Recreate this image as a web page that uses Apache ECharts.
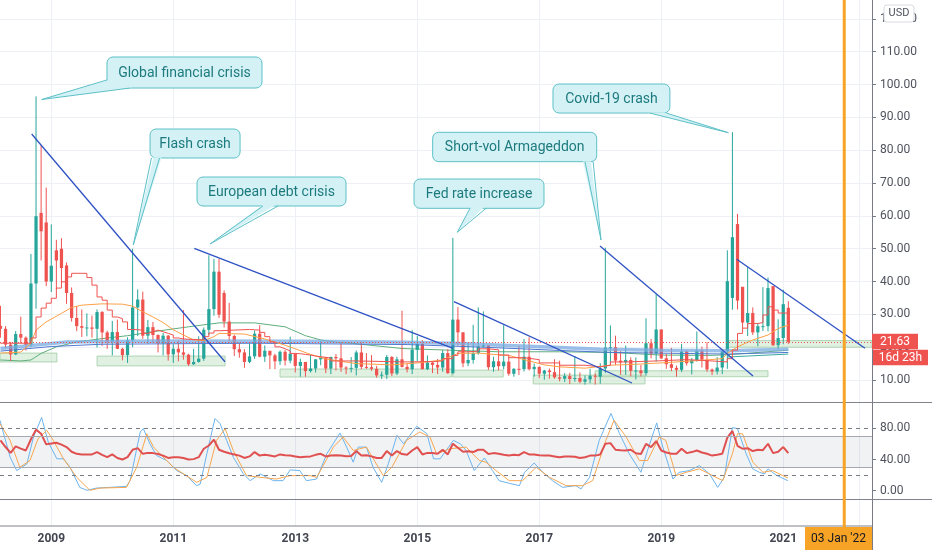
<!DOCTYPE html>
<html><head><meta charset="utf-8">
<script src="https://cdn.jsdelivr.net/npm/echarts@6/dist/echarts.min.js"></script>
<style>html,body{margin:0;padding:0;background:#fff}#c{width:932px;height:550px}</style>
</head><body><div id="c"></div><script>
// ---------------- DATA ----------------
const months = ['2008-03','2008-04','2008-05','2008-06','2008-07','2008-08','2008-09','2008-10','2008-11','2008-12',
'2009-01','2009-02','2009-03','2009-04','2009-05','2009-06','2009-07','2009-08','2009-09','2009-10','2009-11','2009-12',
'2010-01','2010-02','2010-03','2010-04','2010-05','2010-06','2010-07','2010-08','2010-09','2010-10','2010-11','2010-12',
'2011-01','2011-02','2011-03','2011-04','2011-05','2011-06','2011-07','2011-08','2011-09','2011-10','2011-11','2011-12',
'2012-01','2012-02','2012-03','2012-04','2012-05','2012-06','2012-07','2012-08','2012-09','2012-10','2012-11','2012-12',
'2013-01','2013-02','2013-03','2013-04','2013-05','2013-06','2013-07','2013-08','2013-09','2013-10','2013-11','2013-12',
'2014-01','2014-02','2014-03','2014-04','2014-05','2014-06','2014-07','2014-08','2014-09','2014-10','2014-11','2014-12',
'2015-01','2015-02','2015-03','2015-04','2015-05','2015-06','2015-07','2015-08','2015-09','2015-10','2015-11','2015-12',
'2016-01','2016-02','2016-03','2016-04','2016-05','2016-06','2016-07','2016-08','2016-09','2016-10','2016-11','2016-12',
'2017-01','2017-02','2017-03','2017-04','2017-05','2017-06','2017-07','2017-08','2017-09','2017-10','2017-11','2017-12',
'2018-01','2018-02','2018-03','2018-04','2018-05','2018-06','2018-07','2018-08','2018-09','2018-10','2018-11','2018-12',
'2019-01','2019-02','2019-03','2019-04','2019-05','2019-06','2019-07','2019-08','2019-09','2019-10','2019-11','2019-12',
'2020-01','2020-02','2020-03','2020-04','2020-05','2020-06','2020-07','2020-08','2020-09','2020-10','2020-11','2020-12',
'2021-01','2021-02'];
const open = [26.5,25.6,20.8,17.8,24.0,22.9,20.7,39.4,60.9,58.0,
40.0,49.5,50.0,44.9,36.5,28.9,26.4,25.9,26.0,25.6,30.7,24.5,
21.7,24.6,19.5,17.6,22.1,32.1,34.5,23.5,26.1,23.7,21.2,23.5,
17.8,19.5,18.4,17.7,14.8,15.5,16.5,25.3,31.6,43.0,36.5,27.8,
23.4,19.4,18.4,15.5,17.2,24.1,17.1,18.9,17.5,15.7,18.6,15.9,
18.0,14.3,15.5,12.7,13.5,16.3,16.9,13.5,17.0,16.6,13.8,13.7,
13.7,18.4,14.0,13.9,13.4,11.4,11.6,17.0,12.0,16.3,14.0,13.3,
19.2,21.0,13.3,15.3,14.6,13.8,18.2,12.1,28.4,24.5,15.1,16.1,
18.2,20.2,20.6,13.9,15.7,14.2,15.6,11.9,13.4,13.3,17.1,13.3,
14.0,11.9,12.9,12.4,10.8,10.4,11.2,10.3,10.6,9.5,10.2,11.3,
11.0,13.5,19.9,20.0,15.9,15.4,16.1,12.8,12.9,12.1,21.2,18.1,
25.4,16.6,14.8,13.7,13.1,18.7,15.1,16.1,19.0,16.2,13.2,12.6,
13.8,18.8,35.0,57.5,38.4,27.5,30.4,24.5,26.4,26.4,38.6,20.6,
22.8,32.0];
const high = [32.6,26.4,21.6,24.9,29.3,23.3,48.4,96.4,81.5,68.6,
57.4,52.7,53.2,45.8,38.2,32.5,31.5,30.3,29.6,31.5,31.0,25.0,
28.0,28.4,19.8,23.0,50.0,37.6,36.9,28.3,27.7,23.9,24.3,23.7,
20.9,22.1,31.3,18.0,19.5,23.3,26.0,48.0,46.9,46.9,37.3,33.5,
23.8,21.3,19.4,21.1,25.1,26.7,20.5,18.9,18.0,19.0,19.1,23.2,
18.0,16.5,15.5,17.6,16.3,21.9,16.9,17.1,17.9,21.3,14.2,17.0,
19.0,21.5,18.2,17.6,14.3,12.6,17.6,17.3,17.1,31.1,15.0,25.2,
23.4,22.2,17.5,15.6,16.4,19.1,19.4,53.3,32.2,24.6,21.4,26.8,
32.1,30.9,20.6,17.1,17.6,26.7,17.1,13.6,20.5,22.5,23.0,15.0,
14.2,13.1,13.5,16.3,15.9,12.1,12.2,17.3,12.3,11.4,13.4,12.0,
15.1,50.3,26.6,23.5,18.8,20.5,16.9,16.9,14.6,28.8,22.5,36.2,
25.4,17.9,19.8,14.4,21.0,19.0,16.7,24.8,20.2,21.5,13.5,17.0,
19.0,49.5,85.5,60.6,38.3,44.4,32.1,27.4,38.3,41.2,38.4,28.5,
37.5,34.0];
const low = [22.9,19.6,15.8,17.6,21.3,19.0,20.0,31.7,46.4,38.6,
36.8,37.6,39.6,33.2,27.8,24.9,23.1,23.3,22.9,19.9,20.4,19.5,
17.5,19.4,16.0,15.2,20.0,23.4,22.5,21.1,21.3,18.4,17.5,15.9,
15.2,15.7,16.2,14.3,14.6,15.3,15.8,23.7,29.6,28.9,26.0,21.7,
17.3,16.8,13.7,15.1,16.4,16.9,15.5,13.3,13.3,14.6,14.4,15.1,
12.3,11.0,11.0,12.3,12.3,14.5,12.1,11.8,12.9,12.5,11.8,12.3,
11.4,13.3,13.4,12.8,10.7,10.3,10.3,11.2,11.5,13.8,12.3,11.8,
15.8,13.2,13.0,12.1,11.8,12.5,11.9,11.8,20.5,13.9,14.2,15.0,
17.7,19.8,13.1,12.5,12.9,13.2,11.3,11.0,11.5,12.6,12.9,11.0,
10.6,10.1,10.4,10.4,9.6,9.4,8.8,9.5,9.0,8.6,9.0,8.6,
8.9,12.1,14.6,14.6,11.6,11.6,11.1,10.2,11.1,11.3,16.6,15.6,
16.4,13.4,12.7,11.0,12.4,14.4,11.7,15.6,13.8,12.5,11.5,11.7,
11.8,13.4,31.4,31.5,25.6,23.4,23.7,20.3,24.9,24.8,20.4,19.3,
20.9,21.0];
const close = [25.6,20.8,17.8,24.0,22.9,20.7,39.4,59.9,55.3,40.0,
44.8,46.4,44.1,36.5,28.9,26.4,25.9,26.0,25.6,30.7,24.5,21.7,
24.6,19.5,17.6,22.1,32.1,34.5,23.5,26.1,23.7,21.2,23.5,17.8,
19.5,18.4,17.7,14.8,15.5,16.5,25.3,31.6,43.0,29.9,27.8,23.4,
19.4,18.4,15.5,17.2,24.1,17.1,18.9,17.5,15.7,18.6,15.9,18.0,
14.3,15.5,12.7,13.5,16.3,16.9,13.5,17.0,16.6,13.8,13.7,13.7,
18.4,14.0,13.9,13.4,11.4,11.6,17.0,12.0,16.3,14.0,13.3,19.2,
21.0,13.3,15.3,14.6,13.8,18.2,12.1,28.4,24.5,15.1,16.1,18.2,
20.2,20.6,13.9,15.7,14.2,15.6,11.9,13.4,13.3,17.1,13.3,14.0,
11.9,12.9,12.4,10.8,10.4,11.2,10.3,10.6,9.5,10.2,11.3,11.0,
13.5,19.9,20.0,15.9,15.4,16.1,12.8,12.9,12.1,21.2,18.1,25.4,
16.6,14.8,13.7,13.1,18.7,15.1,16.1,19.0,16.2,13.2,12.6,13.8,
18.8,40.1,53.5,34.2,27.5,30.4,24.5,26.4,26.4,38.0,20.6,22.8,
33.1,21.6];
const lastPrice = 21.63;
const countdown = '16d 23h';
const currency = 'USD';
const markerDate = "03 Jan '22";

// indicator lines: [months since Jan 2009, value]
const maStep = [[-10,21.2],[-5,21.2],[-4,22.8],[-3,29.2],[-2,31.9],[-1,33.4],[0,34.9],[1,38],[2,39.9],[3,41.4],[4,42.5],[6,42.5],[7,41.2],[8,38.9],[9,35.3],[10,34.3],[11,31.3],[12,29.2],[13,28.7],[14,27.7],[15,25.4],[16,25.2],[18,24.2],[19,24.7],[20,25.2],[21,24.7],[22,24.2],[23,23.7],[24,22.8],[25,22.5],[26,22.2],[30,23.2],[31,24.3],[32,25],[33,25.4],[39,25.3],[40,25.2],[41,24.5],[42,23.2],[43,21.6],[44,20.1],[45,19.5],[46,18.9],[47,18.1],[48,18],[49,17.8],[50,17.6],[51,17.3],[52,16.7],[55,15.8],[60,15.5],[70,15.6],[75,15.8],[77,16.5],[79,17.5],[80,18.6],[82,18.8],[84,19.5],[86,19.2],[88,17.6],[90,16.8],[93,16.2],[96,15.2],[100,14.5],[105,14],[108,14.5],[110,15.5],[113,15.8],[119,16],[122,16.2],[125,16],[128,15.5],[133,16.5],[134,19.1],[135,24.2],[136,25.8],[137,27.2],[139,27.5],[140,29.8],[141,32.3],[142,31.3],[143,30.4],[145,29.5]];
const maOrange = [[-10,18.2],[-6,18.5],[-4,21.2],[-3,25.2],[-1,27.7],[2,30.3],[4,32.1],[6,32.8],[10,33.2],[14,33.1],[16,32.5],[18,30.8],[20,29.2],[22,27.5],[24,25.3],[26,23.7],[28,22.2],[30,22],[32,23.2],[33,24.2],[38,24],[42,22.5],[46,20.6],[48,19.5],[51,17.8],[54,16.4],[60,15],[67,14.6],[72,15.2],[77,16.1],[80,18.1],[84,18.2],[87,17.8],[90,17.5],[94,15.8],[97,14.6],[100,14],[105,13.6],[110,14.5],[115,14.8],[120,15.2],[128,16],[132,16.5],[133,18.1],[135,20.1],[138,22.2],[141,23.7],[143,25.7],[145,26.7]];
const maGreen = [[-10,16.1],[-6,15.8],[-4,16.1],[-2,18.1],[1,20.1],[5,21.6],[10,22.6],[15,23.5],[20,24.7],[27,26.2],[33,27.4],[40,27.4],[46,26.2],[50,23.5],[53,22.2],[56,21.5],[59,21.2],[69,19.6],[78,19.1],[88,18.6],[100,18.6],[110,18.4],[120,17.6],[130,17.5],[134,17.8],[140,18.5],[145,19.1]];
const maBlueWide = [[-10,19.6],[-4,20.5],[3,21.6],[20,21.9],[50,21.8],[70,21.5],[80,21.1],[90,20.5],[100,19.9],[108,19.4],[120,19.1],[133,18.9],[145,19.4]];
const maBlue = [[-10,18.8],[0,20.2],[10,20.9],[40,21.2],[70,20.8],[85,20.0],[100,19.0],[110,18.4],[133,17.9],[145,18.4]];
const maTeal = [[133,17.0],[137,17.3],[141,17.6],[145,17.9]];

const rsi = [[-10,64.5],[-9,56],[-8,48.6],[-7,56.8],[-6,54],[-5,51.6],[-4,66],[-3,78.3],[-2,73],[-1,59.4],[0,60.5],[1,61.5],[2,59],[3,55.9],[4,50],[5,47.3],[6,46.5],[7,46.5],[8,46.5],[9,49.5],[10,46],[11,43],[12,46.5],[13,42],[14,40],[15,43],[16,52.5],[17,54.6],[18,47.3],[19,48.5],[20,48.2],[21,47],[22,45],[23,42],[24,43],[25,43],[26,42],[27,40],[28,40.5],[29,43],[30,53.8],[31,58],[32,65.4],[33,52.5],[34,50],[35,48],[36,46.5],[37,45],[38,42],[39,44],[40,49.5],[41,45],[42,46],[43,45],[44,44],[45,46.5],[46,45.5],[47,45],[48,44],[49,43],[50,43.5],[51,44],[52,46],[53,47.3],[54,44],[55,45],[56,45.5],[57,45],[58,44.1],[59,44.5],[60,50.8],[61,45],[62,45.5],[63,44],[64,42],[65,42],[66,50.8],[67,45],[68,50.8],[69,47],[70,46],[71,51.6],[72,55.9],[73,46.5],[74,48.5],[75,48.2],[76,47.3],[77,52.5],[78,46.5],[79,60.2],[80,55],[81,50],[82,50.5],[83,49.5],[84,52.5],[85,52.5],[86,47],[87,48.2],[88,47.3],[89,46],[90,45],[91,46],[92,45.5],[93,49.5],[94,46.5],[95,46.5],[96,45.5],[97,45],[98,45],[99,44],[100,43],[101,44],[102,43.8],[103,43.5],[104,42],[105,43],[106,45],[107,45],[108,46.5],[109,60.2],[110,61],[111,52.5],[112,52],[113,51.6],[114,52.5],[115,48],[116,47],[117,60],[118,55.9],[119,63.6],[120,51.6],[121,49],[122,47.3],[123,47.5],[124,53.8],[125,48.2],[126,49.5],[127,51.6],[128,49],[129,47.3],[130,45],[131,46],[132,47.3],[133,68],[134,76.6],[135,57.6],[136,53.8],[137,54.5],[138,50.8],[139,52.5],[140,52],[141,60.2],[142,48.2],[143,50],[144,55.9],[145,48.2]];
const stochK = [[-10.1,90.3],[-8.1,43],[-6.8,25.8],[-4.8,34.4],[-3.5,68.8],[-1.9,93.8],[-0.6,62.4],[1.1,40.9],[2.4,40.9],[3.7,30],[5.6,4.3],[7,0.5],[8.9,3.4],[11.5,4.3],[14.8,5.6],[15.5,12.9],[17.5,75.3],[18.1,79.6],[19.4,60.2],[20.7,45.2],[22.7,38.7],[24.7,25.8],[26.6,19.4],[28.6,6.5],[29.3,8.6],[30.6,47.3],[32.2,92.5],[33.2,86],[34.5,64.5],[35.8,43],[37.8,21.5],[39.1,12.9],[41.1,21.5],[43.7,12.9],[45.6,12.9],[47,26.7],[48.9,25.8],[50.2,12.9],[52.2,15],[54.2,47.3],[56.8,74],[58.1,55.9],[59.4,36.6],[60.4,55.9],[62,55.9],[63.3,30],[65,10.8],[66.3,34.4],[68,71],[69.3,60.2],[71.9,82.6],[73.9,73.1],[75.2,40.9],[76.5,40.9],[79.1,64.5],[80.5,60],[81.6,51.6],[83.2,25.8],[85.2,42],[86.8,25.8],[88.1,12.9],[90.1,9.5],[92.1,6.5],[93.1,23.6],[95,35.5],[96.7,23.6],[98.6,12.9],[100.6,4.3],[103.2,6.5],[104.2,2.2],[105.9,17.2],[107.8,64.5],[110.1,99],[111.8,73.1],[113.7,47.3],[116,23.6],[117.3,51.6],[119.1,86.9],[120.3,55.9],[122.3,15],[123.5,23.6],[125.5,25.8],[127.5,32.2],[129.5,21.5],[131.1,4.3],[132.4,17.2],[134,80.9],[135,79.6],[136.7,47.3],[138,28],[139.3,23.6],[140.3,21.5],[141,28],[142.6,20],[144.9,12.9]];
const stochD = [[-10.1,86],[-8.1,64.5],[-6.2,30],[-4.2,38.7],[-2.6,66.7],[-0.9,77.4],[0.4,64.5],[2.4,40.9],[5,17.2],[7.6,0.5],[9.6,3.4],[14.8,4.3],[16.8,30],[18.8,73],[20.1,56],[24,30],[28.6,10.8],[30.6,17],[32.5,64.5],[34.2,79.6],[35.8,51.6],[38.4,19.4],[41.1,17.2],[44.3,15],[47,19.4],[50.9,19.4],[52.2,17],[55.5,55.9],[57.4,68.8],[59.4,51.6],[62,55.9],[65.3,19.4],[67,30],[69.9,64.5],[72.5,75.3],[74.5,68.8],[75.8,47.3],[78.4,53.8],[81.6,55.9],[84.2,38.7],[85.5,36.6],[87.5,25.8],[90.1,12.9],[92.7,12.9],[95.4,30],[98,17.2],[101.3,6.5],[104.5,6.5],[106.5,12.9],[109.1,64.5],[110.7,90.3],[113.1,68.8],[115.7,38.7],[117.3,38.7],[119.6,68.8],[120.9,64.5],[122.9,19.4],[124.9,23.6],[127.5,28],[130.1,19.4],[132.1,12.9],[134,47.3],[135,73],[136,73],[138,36.6],[140,23.6],[141.9,25.8],[144.9,16.3]];

// drawings (data coordinates: months since Jan 2009, price)
const trendLines = [[[-3.86,84.93],[34.17,15.57]],[[28.13,50.1],[79.03,19.66]],[[79.22,33.85],[114.24,9.09]],[[107.95,50.82],[138.05,11.22]],[[134.84,46.76],[160.08,19.66]]];
const zones = [[-10.09,18.2,1.1,15.5],[9.0,17.3,34.2,14.3],[45.0,13.35,78.8,10.9],[79.0,13.0,88.9,10.9],[94.8,11.5,116.8,8.8],[107.0,12.8,141.0,11.0],[133.0,22.0,161.46,20.0]];
const calloutTexts = ['Global financial crisis','Flash crash','European debt crisis','Fed rate increase','Short-vol Armageddon','Covid-19 crash'];
const calloutGeom = [
  {box:[10.96,41.45,108.39,98.94], base:[[10.96,101.4],[15.5,98.94]], tip:[-1.89,95.44]},
  {box:[19.43,37.14,86.45,77.62], base:[[19.7,77.62],[21.3,77.62]], tip:[16.13,51.12]},
  {box:[28.67,57.98,71.83,63.0], base:[[41.65,63.0],[44.6,63.0]], tip:[31.22,51.43]},
  {box:[71.36,96.93,71.22,62.3], base:[[82.38,62.3],[85.53,62.3]], tip:[79.87,54.99]},
  {box:[75.03,107.3,85.45,76.5], base:[[105.0,76.5],[106.6,76.5]], tip:[108.15,52.64]},
  {box:[98.7,121.7,100.16,91.32], base:[[117.78,91.32],[121.0,91.32]], tip:[133.19,85.33]}
];
const yearTicks = [0,24,48,72,96,120,144];
const priceTicks = [10,20,30,40,50,60,70,80,90,100,110,120];
const oscTicks = [0,40,80];
const markerMonth = 156;

// ---------------- CHART ----------------
const FONT = "Roboto, 'Liberation Sans', sans-serif";
const monthIdx = s => { const p = s.split('-').map(Number); return (p[0]-2009)*12 + (p[1]-1); };
const candleData = months.map((m,i)=>[monthIdx(m), open[i], high[i], low[i], close[i]]);
const xMin = -10.09, xMax = 161.46;
const GRID_W = 872;
const UP = '#26a69a', DOWN = '#ef5350';

function renderCandle(params, api){
  const t = api.value(0), o = api.value(1), h = api.value(2), l = api.value(3), c = api.value(4);
  const po = api.coord([t,o]), pc = api.coord([t,c]), ph = api.coord([t,h]), pl = api.coord([t,l]);
  const bw = api.size([1,0])[0]*0.64;
  const col = c >= o ? UP : DOWN;
  const x = po[0];
  return {type:'group', children:[
    {type:'line', shape:{x1:x,y1:ph[1],x2:x,y2:pl[1]}, style:{stroke:col, lineWidth:1}},
    {type:'rect', shape:{x:x-bw/2, y:Math.min(po[1],pc[1]), width:bw, height:Math.max(1,Math.abs(po[1]-pc[1]))}, style:{fill:col}}
  ]};
}
function renderCallout(params, api){
  const g = calloutGeom[params.dataIndex];
  const a = api.coord([g.box[0], g.box[2]]), b = api.coord([g.box[1], g.box[3]]);
  const x0=a[0], y0=a[1], x1=b[0], y1=b[1];
  const cx=(x0+x1)/2, cy=(y0+y1)/2;
  const tip = api.coord(g.tip);
  const bs = g.base.map(p=>api.coord(p));
  const inner = bs.map(p=>{const dx=cx-p[0], dy=cy-p[1], d=Math.hypot(dx,dy)||1; return [p[0]+dx/d*2.2, p[1]+dy/d*2.2];});
  const fill='#d4f2f5', stroke='#5cc0c7';
  return {type:'group', children:[
    {type:'rect', shape:{x:x0,y:y0,width:x1-x0,height:y1-y0,r:6}, style:{fill:fill, stroke:stroke, lineWidth:1}},
    {type:'polygon', shape:{points:[inner[0], tip, inner[1]]}, style:{fill:fill}},
    {type:'polyline', shape:{points:[bs[0], tip, bs[1]]}, style:{stroke:stroke, lineWidth:1, fill:null}},
    {type:'text', x:cx, y:cy+0.5, style:{text:calloutTexts[params.dataIndex], fill:'#1c7a7e', fontSize:14, fontFamily:FONT, align:'center', verticalAlign:'middle', textAlign:'center', textVerticalAlign:'middle'}}
  ]};
}
const lineS = (data, color, width, extra) => Object.assign({type:'line', xAxisIndex:0, yAxisIndex:0, data:data, showSymbol:false, symbol:'none', silent:true, lineStyle:{color:color, width:width}, z:3}, extra||{});

const axisX = i => ({
  type:'value', gridIndex:i, min:xMin, max:xMax,
  axisLine:{show:false, onZero:false},
  axisTick:{show:true, length:0, customValues: yearTicks.concat([159])},
  axisLabel: i===2 ? {show:true, customValues: yearTicks, formatter: v => String(2009 + Math.round(v/12)), color:'#434651', fontSize:12, fontWeight:'bold', fontFamily:FONT, margin:7} : {show:false},
  splitLine:{show:true, lineStyle:{color:'#edf0f5', width:1}}
});

const option = {
  animation:false,
  backgroundColor:'#ffffff',
  textStyle:{fontFamily:FONT},
  grid:[
    {left:0, top:0, width:GRID_W, height:402},
    {left:0, top:402, width:GRID_W, height:97},
    {left:0, top:499, width:GRID_W, height:27}
  ],
  xAxis:[axisX(0), axisX(1), axisX(2)],
  yAxis:[
    {type:'value', gridIndex:0, position:'right', min:3.30, max:125.75,
     axisLine:{show:true, onZero:false, lineStyle:{color:'#787b86'}},
     axisTick:{show:true, length:4, customValues:priceTicks, lineStyle:{color:'#787b86'}},
     axisLabel:{customValues:priceTicks, formatter:v=>v.toFixed(2), color:'#50535e', fontSize:12, fontFamily:FONT, margin:8},
     splitLine:{show:true, lineStyle:{color:'#edf0f5'}}},
    {type:'value', gridIndex:1, position:'right', min:-10.6, max:113.7,
     axisLine:{show:true, onZero:false, lineStyle:{color:'#787b86'}},
     axisTick:{show:true, length:4, customValues:oscTicks, lineStyle:{color:'#787b86'}},
     axisLabel:{customValues:oscTicks, formatter:v=>v.toFixed(2), color:'#50535e', fontSize:12, fontFamily:FONT, margin:8},
     splitLine:{show:false}},
    {type:'value', gridIndex:2, position:'right', min:0, max:1,
     axisLine:{show:true, onZero:false, lineStyle:{color:'#787b86'}}, axisTick:{show:false}, axisLabel:{show:false}, splitLine:{show:false}}
  ],
  series:[
    lineS(maGreen, '#5fae7c', 1, {
      z:1,
      markArea:{silent:true, itemStyle:{color:'rgba(198,228,200,0.55)', borderColor:'rgba(150,200,155,0.7)', borderWidth:1},
        data: zones.map(z=>[{coord:[z[0],z[1]]},{coord:[z[2],z[3]]}])}
    }),
    {type:'custom', xAxisIndex:0, yAxisIndex:0, renderItem:renderCandle, data:candleData, encode:{x:0, y:[1,2,3,4]}, silent:true, z:2},
    lineS(maBlueWide, 'rgba(120,170,225,0.75)', 3.5),
    lineS(maBlue, '#4f79cf', 1),
    lineS(maTeal, '#3aa99f', 1),
    lineS(maOrange, '#ffa047', 1),
    lineS(maStep, '#ef5350', 1, {step:'end',
      markLine:{silent:true, symbol:['none','none'], label:{show:false},
        data: [{yAxis:lastPrice, lineStyle:{color:'#ef5350', type:[1,2], width:1}}].concat(
          trendLines.map(l=>[{coord:l[0], lineStyle:{color:'#2f52c4', width:1.3, type:'solid'}},{coord:l[1]}]))}
    }),
    {type:'custom', xAxisIndex:0, yAxisIndex:0, renderItem:renderCallout, data:calloutGeom.map(g=>g.tip), encode:{x:0,y:1}, silent:true, z:10},
    {type:'line', xAxisIndex:1, yAxisIndex:1, data:stochK, showSymbol:false, symbol:'none', silent:true, lineStyle:{color:'#6cb4ee', width:1}, z:3,
      markArea:{silent:true, itemStyle:{color:'rgba(120,123,134,0.10)'}, data:[[{yAxis:30},{yAxis:70}]]},
      markLine:{silent:true, symbol:['none','none'], label:{show:false},
        data:[{yAxis:80, lineStyle:{color:'#787b86', type:[4,4], width:1}},{yAxis:20, lineStyle:{color:'#787b86', type:[4,4], width:1}},
              {yAxis:70, lineStyle:{color:'#a5a8b0', type:'solid', width:1}},{yAxis:30, lineStyle:{color:'#a5a8b0', type:'solid', width:1}}]}},
    {type:'line', xAxisIndex:1, yAxisIndex:1, data:stochD, showSymbol:false, symbol:'none', silent:true, lineStyle:{color:'#f7a64f', width:1}, z:3},
    {type:'line', xAxisIndex:1, yAxisIndex:1, data:rsi, showSymbol:false, symbol:'none', silent:true, lineStyle:{color:'#e05050', width:2}, z:4}
  ]
};
const chart = echarts.init(document.getElementById('c'));
chart.setOption(option);

const xOr = chart.convertToPixel({xAxisIndex:0}, markerMonth);
const yLast = chart.convertToPixel({yAxisIndex:0}, lastPrice);
const lblW = 67;
const lblX = Math.min(xOr - lblW/2, GRID_W - lblW);
const txt = (x, y, text, color, size, z) => ({type:'text', z:z||80, x:x, y:y,
  style:{text:text, fill:color, fontSize:size, fontFamily:FONT, align:'center', verticalAlign:'middle', textAlign:'center', textVerticalAlign:'middle'}});
chart.setOption({graphic:[
  {type:'line', z:50, shape:{x1:0,y1:402.5,x2:932,y2:402.5}, style:{stroke:'#80838c', lineWidth:1}},
  {type:'line', z:50, shape:{x1:0,y1:499.5,x2:932,y2:499.5}, style:{stroke:'#80838c', lineWidth:1}},
  {type:'line', z:50, shape:{x1:0,y1:526,x2:GRID_W,y2:526}, style:{stroke:'#80838c', lineWidth:1}},
  {type:'line', z:50, shape:{x1:GRID_W+0.5,y1:526,x2:GRID_W+0.5,y2:550}, style:{stroke:'#787b86', lineWidth:1}},
  {type:'line', z:60, shape:{x1:xOr,y1:0,x2:xOr,y2:550}, style:{stroke:'#f7a325', lineWidth:3}},
  {type:'rect', z:70, shape:{x:lblX, y:527, width:lblW, height:23}, style:{fill:'#f7a325'}},
  txt(lblX + lblW/2, 538.5, markerDate, '#131722', 12),
  {type:'rect', z:70, shape:{x:884, y:5, width:30, height:17, r:3}, style:{fill:'#ffffff', stroke:'#d8dbe2', lineWidth:1}},
  txt(899, 13.5, currency, '#50535e', 11),
  {type:'rect', z:70, shape:{x:GRID_W, y:yLast-8, width:46, height:15.5}, style:{fill:'#ef5350'}},
  txt(GRID_W + 23, yLast - 0.2, lastPrice.toFixed(2), '#ffffff', 12),
  {type:'rect', z:70, shape:{x:GRID_W+1, y:yLast+8, width:55, height:15.5}, style:{fill:'#ef5350'}},
  txt(GRID_W + 28.5, yLast + 15.8, countdown, '#ffffff', 12)
]});
</script></body></html>
